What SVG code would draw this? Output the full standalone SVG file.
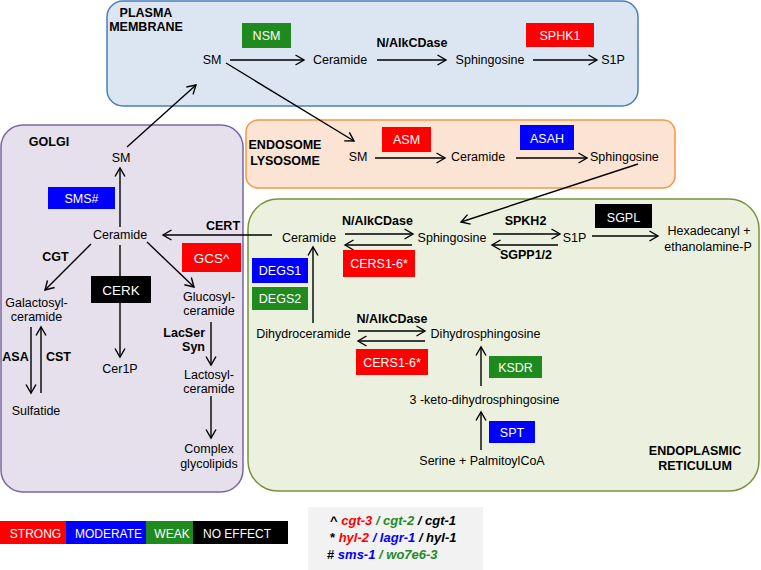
<svg xmlns="http://www.w3.org/2000/svg" width="761" height="570" viewBox="0 0 761 570">
<style>
text{font-family:"Liberation Sans",Arial,sans-serif;font-size:12.5px;fill:#000}
.m{text-anchor:middle}
.e{text-anchor:end}
.b{font-weight:bold}
.w{fill:#fff;text-anchor:middle;font-size:12.5px}
.big{font-size:13.5px}
.red{fill:#ff0000}.blu{fill:#0000ff}.grn{fill:#1f8b1f}.blk{fill:#000}
.ln{stroke:#000;stroke-width:1.4;fill:none}
.a{marker-end:url(#ah)}
.leg{font-weight:bold;font-style:italic;font-size:13px}
</style>
<defs>
<marker id="ah" markerWidth="12" markerHeight="12" refX="9.5" refY="6" orient="auto" markerUnits="userSpaceOnUse">
<path d="M1,1 L9.5,6 L1,11" fill="none" stroke="#000" stroke-width="1.4"/>
</marker>
</defs>

<!-- compartments -->
<g id="plasma-membrane">
<rect x="107" y="1" width="531" height="105" rx="16" fill="#dce6f2" stroke="#4a7ebb" stroke-width="1.5"/>
<text class="b m" x="146" y="17">PLASMA</text>
<text class="b m" x="146" y="31">MEMBRANE</text>
</g>
<g id="golgi">
<rect x="1" y="125" width="242" height="367" rx="22" fill="#e5e0ec" stroke="#7b66a0" stroke-width="1.5"/>
<text class="b m" x="49" y="146">GOLGI</text>
</g>
<g id="endosome-lysosome">
<rect x="246" y="120" width="429" height="68" rx="12" fill="#fce4d4" stroke="#f79646" stroke-width="1.5"/>
<text class="b m" x="285" y="149">ENDOSOME</text>
<text class="b m" x="285" y="165">LYSOSOME</text>
</g>
<g id="endoplasmic-reticulum">
<rect x="248" y="199" width="511" height="292" rx="30" fill="#ebf1de" stroke="#77933c" stroke-width="1.5"/>
<text class="b m" x="695" y="455">ENDOPLASMIC</text>
<text class="b m" x="695" y="470">RETICULUM</text>
</g>

<!-- connectors -->
<g id="connectors">
<line class="ln a" x1="230" y1="60" x2="304" y2="60"/>
<line class="ln a" x1="377" y1="60" x2="446" y2="60"/>
<line class="ln a" x1="533" y1="60" x2="597" y2="60"/>
<line class="ln a" x1="127" y1="147" x2="196" y2="85"/>
<line class="ln a" x1="226" y1="63" x2="354" y2="141"/>
<line class="ln a" x1="375" y1="158" x2="445" y2="158"/>
<line class="ln a" x1="516" y1="158" x2="587" y2="158"/>
<line class="ln a" x1="638" y1="164" x2="461" y2="222"/>
<line class="ln a" x1="120" y1="227" x2="120" y2="168"/>
<line class="ln a" x1="91" y1="244" x2="45" y2="290"/>
<line class="ln a" x1="147" y1="242" x2="194" y2="287"/>
<line class="ln a" x1="120" y1="245" x2="120" y2="357"/>
<line class="ln a" x1="31" y1="327" x2="31" y2="393"/>
<line class="ln a" x1="41" y1="393" x2="41" y2="327"/>
<line class="ln a" x1="211" y1="322" x2="211" y2="365"/>
<line class="ln a" x1="211" y1="396" x2="211" y2="438"/>
<line class="ln a" x1="272" y1="235" x2="163" y2="235"/>
<line class="ln a" x1="345" y1="234" x2="413" y2="234"/>
<line class="ln a" x1="412" y1="245" x2="345" y2="245"/>
<line class="ln a" x1="493" y1="234" x2="560" y2="234"/>
<line class="ln a" x1="558" y1="245" x2="492" y2="245"/>
<line class="ln a" x1="592" y1="236" x2="658" y2="236"/>
<line class="ln a" x1="313" y1="323" x2="313" y2="247"/>
<line class="ln a" x1="358" y1="331" x2="425" y2="331"/>
<line class="ln a" x1="425" y1="341" x2="358" y2="341"/>
<line class="ln a" x1="481" y1="386" x2="481" y2="347"/>
<line class="ln a" x1="481" y1="450" x2="481" y2="412"/>
</g>

<!-- plasma membrane nodes -->
<g id="pm-sm"><text class="m" x="212" y="64">SM</text></g>
<g id="pm-ceramide"><text class="m" x="340" y="64">Ceramide</text></g>
<g id="pm-sphingosine"><text class="m" x="490" y="64">Sphingosine</text></g>
<g id="pm-s1p"><text class="m" x="613" y="64">S1P</text></g>
<g id="pm-nalkcdase"><text class="b m" x="412" y="47">N/AlkCDase</text></g>
<g id="nsm"><rect class="grn" x="242" y="23" width="49" height="25"/><text class="w" x="266.5" y="40">NSM</text></g>
<g id="sphk1"><rect class="red" x="526" y="23" width="68" height="24"/><text class="w" x="560" y="40">SPHK1</text></g>

<!-- golgi nodes -->
<g id="g-sm"><text class="m" x="121" y="162">SM</text></g>
<g id="sms"><rect class="blu" x="48" y="187" width="67" height="22"/><text class="w" x="81.5" y="203">SMS#</text></g>
<g id="g-ceramide"><text class="m" x="120" y="239">Ceramide</text></g>
<g id="cert"><text class="b m" x="223" y="230">CERT</text></g>
<g id="cgt"><text class="b m" x="55.5" y="261">CGT</text></g>
<g id="gcs"><rect class="red" x="182" y="243" width="59" height="29"/><text class="w big" x="211.5" y="263">GCS^</text></g>
<g id="cerk"><rect class="blk" x="91" y="276" width="60" height="27"/><text class="w big" x="121" y="295">CERK</text></g>
<g id="galactosylceramide"><text class="m" x="36.5" y="307">Galactosyl-</text><text class="m" x="36.5" y="321">ceramide</text></g>
<g id="glucosylceramide"><text class="m" x="209" y="301">Glucosyl-</text><text class="m" x="209" y="315">ceramide</text></g>
<g id="asa"><text class="b m" x="15.5" y="361">ASA</text></g>
<g id="cst"><text class="b m" x="58.5" y="361">CST</text></g>
<g id="sulfatide"><text class="m" x="36" y="415">Sulfatide</text></g>
<g id="cer1p"><text class="m" x="120" y="373">Cer1P</text></g>
<g id="lacsersyn"><text class="b e" x="205" y="337">LacSer</text><text class="b e" x="205" y="351">Syn</text></g>
<g id="lactosylceramide"><text class="m" x="209" y="379">Lactosyl-</text><text class="m" x="209" y="393">ceramide</text></g>
<g id="complex-glycolipids"><text class="m" x="209" y="453">Complex</text><text class="m" x="209" y="468">glycolipids</text></g>

<!-- endosome nodes -->
<g id="el-sm"><text class="m" x="358" y="161">SM</text></g>
<g id="el-ceramide"><text class="m" x="478" y="161">Ceramide</text></g>
<g id="el-sphingosine"><text x="590" y="161">Sphingosine</text></g>
<g id="asm"><rect class="red" x="382" y="127" width="49" height="25"/><text class="w" x="406.5" y="144">ASM</text></g>
<g id="asah"><rect class="blu" x="520" y="125" width="54" height="25"/><text class="w" x="547" y="143">ASAH</text></g>

<!-- ER nodes -->
<g id="er-ceramide"><text class="m" x="309" y="242">Ceramide</text></g>
<g id="er-nalkcdase1"><text class="b m" x="377.5" y="225">N/AlkCDase</text></g>
<g id="er-sphingosine"><text class="m" x="452" y="242">Sphingosine</text></g>
<g id="spkh2"><text class="b m" x="525.5" y="225">SPKH2</text></g>
<g id="er-s1p"><text class="m" x="574.5" y="242">S1P</text></g>
<g id="sgpp"><text class="b m" x="526" y="259">SGPP1/2</text></g>
<g id="sgpl"><rect class="blk" x="595" y="204" width="57" height="24"/><text class="w" x="623.5" y="222">SGPL</text></g>
<g id="hexadecanyl"><text class="m" x="709" y="235">Hexadecanyl +</text><text class="m" x="708" y="251">ethanolamine-P</text></g>
<g id="cers-1"><rect class="red" x="343" y="250" width="72" height="27"/><text class="w" x="379" y="268">CERS1-6*</text></g>
<g id="degs1"><rect class="blu" x="252" y="258" width="56" height="25"/><text class="w" x="280" y="275">DEGS1</text></g>
<g id="degs2"><rect class="grn" x="252" y="287" width="56" height="23"/><text class="w" x="280" y="303">DEGS2</text></g>
<g id="dihydroceramide"><text class="m" x="303.5" y="338">Dihydroceramide</text></g>
<g id="er-nalkcdase2"><text class="b m" x="392" y="323">N/AlkCDase</text></g>
<g id="dihydrosphingosine"><text class="m" x="485.5" y="338">Dihydrosphingosine</text></g>
<g id="cers-2"><rect class="red" x="356" y="349" width="72" height="26"/><text class="w" x="392" y="367">CERS1-6*</text></g>
<g id="ksdr"><rect class="grn" x="489" y="356" width="53" height="22"/><text class="w" x="515.5" y="372">KSDR</text></g>
<g id="keto"><text class="m" x="484.5" y="404">3 -keto-dihydrosphingosine</text></g>
<g id="spt"><rect class="blu" x="489" y="421" width="46" height="22"/><text class="w" x="512" y="437">SPT</text></g>
<g id="serine"><text class="m" x="482" y="465">Serine + PalmitoylCoA</text></g>

<!-- legend -->
<g id="legend-effect">
<rect class="red" x="0" y="521" width="66" height="23"/>
<rect class="blu" x="66" y="521" width="80" height="23"/>
<rect class="grn" x="146" y="521" width="47" height="23"/>
<rect class="blk" x="193" y="521" width="95" height="23"/>
<text class="w" x="35.5" y="538" style="font-size:12px">STRONG</text>
<text class="w" x="108.5" y="538" style="font-size:12px">MODERATE</text>
<text class="w" x="172" y="538" style="font-size:12px">WEAK</text>
<text class="w" x="237" y="538" style="font-size:12px">NO EFFECT</text>
</g>
<g id="legend-genes">
<rect x="308" y="507" width="175" height="63" fill="#f2f2f2"/>
<text class="leg" x="330" y="525"><tspan style="font-style:normal">^ </tspan><tspan fill="#ff0000">cgt-3 </tspan><tspan fill="#1f8b1f">/ cgt-2 </tspan><tspan>/ cgt-1</tspan></text>
<text class="leg" x="330" y="542"><tspan style="font-style:normal">* </tspan><tspan fill="#ff0000">hyl-2 </tspan><tspan fill="#0000ff">/ lagr-1 </tspan><tspan>/ hyl-1</tspan></text>
<text class="leg" x="327" y="559"><tspan style="font-style:normal"># </tspan><tspan fill="#0000ff">sms-1 </tspan><tspan fill="#1f8b1f">/ wo7e6-3</tspan></text>
</g>
</svg>
